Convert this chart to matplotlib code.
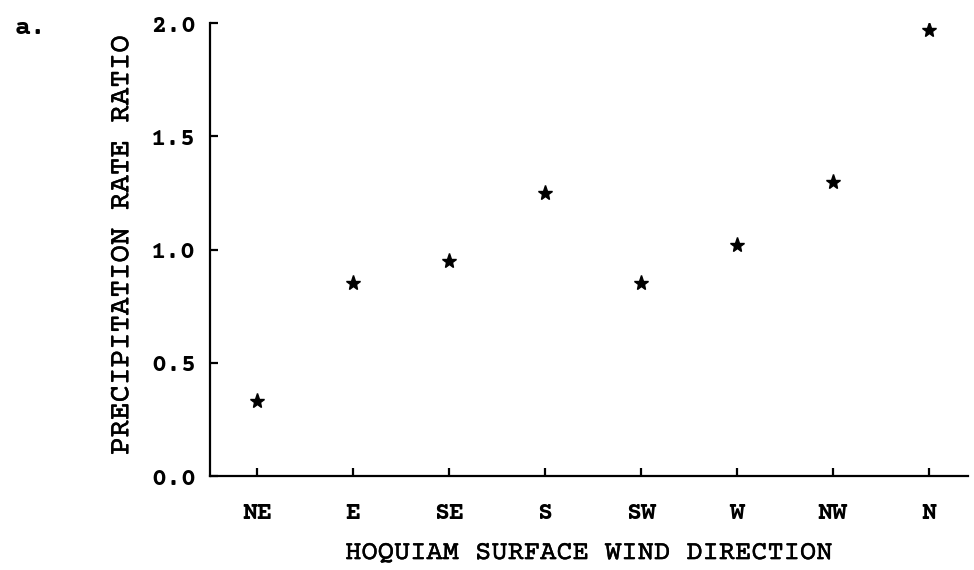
import matplotlib
matplotlib.use("Agg")
import matplotlib.pyplot as plt
import matplotlib.patheffects as pe

directions = ["NE", "E", "SE", "S", "SW", "W", "NW", "N"]
rate_ratio = [0.33, 0.85, 0.95, 1.25, 0.85, 1.02, 1.30, 1.97]
y_ticks = [0.0, 0.5, 1.0, 1.5, 2.0]
y_tick_labels = ["0.0", "0.5", "1.0", "1.5", "2.0"]

# typewriter look of the scan; falls back to Liberation Mono if missing
mono = ["Courier Prime", "Cutive Mono", "Liberation Mono"]
thick = [pe.withStroke(linewidth=0.3, foreground="black")]

fig = plt.figure(figsize=(9.74, 5.70), dpi=100)
ax = fig.add_axes([0.2156, 0.1649, 0.7782, 0.7947])

x = list(range(len(directions)))
ax.plot(x, rate_ratio, linestyle="none", marker="*", markersize=11, color="black")

ax.set_xlim(-0.49, 7.41)
ax.set_ylim(0.0, 2.0)
ax.set_xticks(x)
ax.set_xticklabels(directions, fontfamily=mono, fontweight="bold", fontsize=18)
ax.set_yticks(y_ticks)
ax.set_yticklabels(y_tick_labels, fontfamily=mono, fontweight="bold", fontsize=18)

ax.spines["top"].set_visible(False)
ax.spines["right"].set_visible(False)
for s in ("left", "bottom"):
    ax.spines[s].set_linewidth(1.6)
ax.tick_params(axis="both", direction="in", length=6, width=1.6)
ax.tick_params(axis="x", pad=19)
ax.tick_params(axis="y", pad=10)

xl = ax.set_xlabel("HOQUIAM SURFACE WIND DIRECTION", fontfamily=mono, fontsize=19.5, labelpad=12)
yl = ax.set_ylabel("PRECIPITATION RATE RATIO", fontfamily=mono, fontsize=21, labelpad=8)
xl.set_path_effects(thick)
yl.set_path_effects(thick)
ax.yaxis.set_label_coords(-0.10, 0.51)

fig.text(0.015, 0.95, "a.", fontfamily=mono, fontweight="bold", fontsize=19, va="center")

fig.savefig("out.png", dpi=100, facecolor="white")
